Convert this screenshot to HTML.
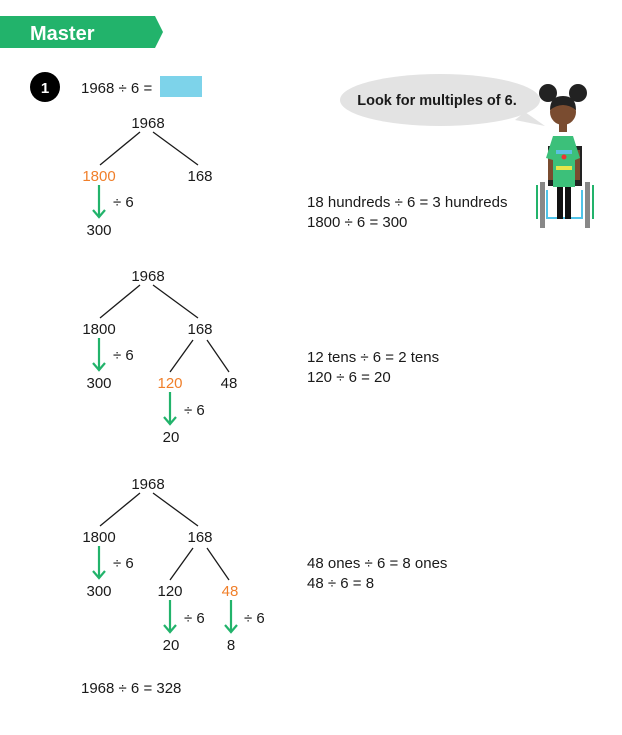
<!DOCTYPE html>
<html><head><meta charset="utf-8"><style>
html,body{margin:0;padding:0;background:#fff;}
svg{display:block;}
text{font-family:"Liberation Sans",sans-serif;font-size:15px;fill:#1a1a1a;}
.o{fill:#f07f2a;}
</style></head><body>
<svg width="622" height="735" viewBox="0 0 622 735" xmlns="http://www.w3.org/2000/svg">
<polygon points="0,16 155,16 163,32 155,48 0,48" fill="#22b36b"/>
<text x="30" y="40" style="font-size:20px;font-weight:bold;fill:#fff">Master</text>
<circle cx="45" cy="87" r="15" fill="#000"/>
<text x="45" y="93" text-anchor="middle" style="fill:#fff;font-weight:bold;font-size:15px">1</text>
<text x="81" y="93">1968 ÷ 6 =</text>
<rect x="160" y="76" width="42" height="21" fill="#7dd3ea"/>

<g stroke="#1a1a1a" stroke-width="1.3" fill="none">
<line x1="140" y1="132" x2="100" y2="165"/><line x1="153" y1="132" x2="198" y2="165"/>
<line x1="140" y1="285" x2="100" y2="318"/><line x1="153" y1="285" x2="198" y2="318"/>
<line x1="193" y1="340" x2="170" y2="372"/><line x1="207" y1="340" x2="229" y2="372"/>
<line x1="140" y1="493" x2="100" y2="526"/><line x1="153" y1="493" x2="198" y2="526"/>
<line x1="193" y1="548" x2="170" y2="580"/><line x1="207" y1="548" x2="229" y2="580"/>
</g>
<g stroke="#22b36b" stroke-width="2.2" fill="none">
<path d="M99,185 V217 M93,210 L99,217 L105,210"/>
<path d="M99,338 V370 M93,363 L99,370 L105,363"/>
<path d="M170,392 V424 M164,417 L170,424 L176,417"/>
<path d="M99,546 V578 M93,571 L99,578 L105,571"/>
<path d="M170,600 V632 M164,625 L170,632 L176,625"/>
<path d="M231,600 V632 M225,625 L231,632 L237,625"/>
</g>
<g text-anchor="middle">
<text x="148" y="128">1968</text><text x="99" y="181" class="o">1800</text><text x="200" y="181">168</text><text x="99" y="235">300</text>
<text x="148" y="281">1968</text><text x="99" y="334">1800</text><text x="200" y="334">168</text><text x="99" y="388">300</text><text x="170" y="388" class="o">120</text><text x="229" y="388">48</text><text x="171" y="442">20</text>
<text x="148" y="489">1968</text><text x="99" y="542">1800</text><text x="200" y="542">168</text><text x="99" y="596">300</text><text x="170" y="596">120</text><text x="230" y="596" class="o">48</text><text x="171" y="650">20</text><text x="231" y="650">8</text>
</g>
<text x="113" y="207">÷ 6</text>
<text x="113" y="360">÷ 6</text><text x="184" y="415">÷ 6</text>
<text x="113" y="568">÷ 6</text><text x="184" y="623">÷ 6</text><text x="244" y="623">÷ 6</text>
<text x="307" y="207">18 hundreds ÷ 6 = 3 hundreds</text><text x="307" y="227">1800 ÷ 6 = 300</text>
<text x="307" y="362">12 tens ÷ 6 = 2 tens</text><text x="307" y="382">120 ÷ 6 = 20</text>
<text x="307" y="568">48 ones ÷ 6 = 8 ones</text><text x="307" y="588">48 ÷ 6 = 8</text>
<text x="81" y="693">1968 ÷ 6 = 328</text>

<ellipse cx="440" cy="100" rx="100" ry="26" fill="#e3e3e3"/>
<polygon points="525,112 545,126 515,120" fill="#e3e3e3"/>
<text x="437" y="105" text-anchor="middle" style="font-weight:bold;font-size:14.5px">Look for multiples of 6.</text>

<rect x="540" y="182" width="5" height="46" fill="#888"/><rect x="585" y="182" width="5" height="46" fill="#888"/>
<rect x="536" y="185" width="2" height="34" fill="#22b36b"/><rect x="592" y="185" width="2" height="34" fill="#22b36b"/>
<path d="M547,190 V218 H582 V190" fill="none" stroke="#4fc3e8" stroke-width="2"/>
<rect x="548" y="146" width="34" height="40" fill="#222"/>
<circle cx="548" cy="93" r="9" fill="#222"/><circle cx="578" cy="93" r="9" fill="#222"/>
<rect x="559" y="120" width="8" height="12" fill="#7a4c30"/>
<circle cx="563" cy="112" r="13" fill="#7a4c30"/>
<path d="M550,110 Q550,96 563,96 Q576,96 576,110 Q563,100 550,110Z" fill="#222"/>
<rect x="548" y="150" width="5" height="30" fill="#7a4c30"/><rect x="575" y="150" width="5" height="30" fill="#7a4c30"/>
<polygon points="553,136 573,136 580,158 575,160 575,187 553,187 553,160 546,158" fill="#3cc07a"/>
<rect x="556" y="150" width="16" height="4" fill="#5bc0e0"/><rect x="556" y="166" width="16" height="4" fill="#e6e64a"/>
<circle cx="564" cy="157" r="2.5" fill="#e33"/>
<rect x="557" y="187" width="6" height="32" fill="#111"/><rect x="565" y="187" width="6" height="32" fill="#111"/>
</svg>
</body></html>
